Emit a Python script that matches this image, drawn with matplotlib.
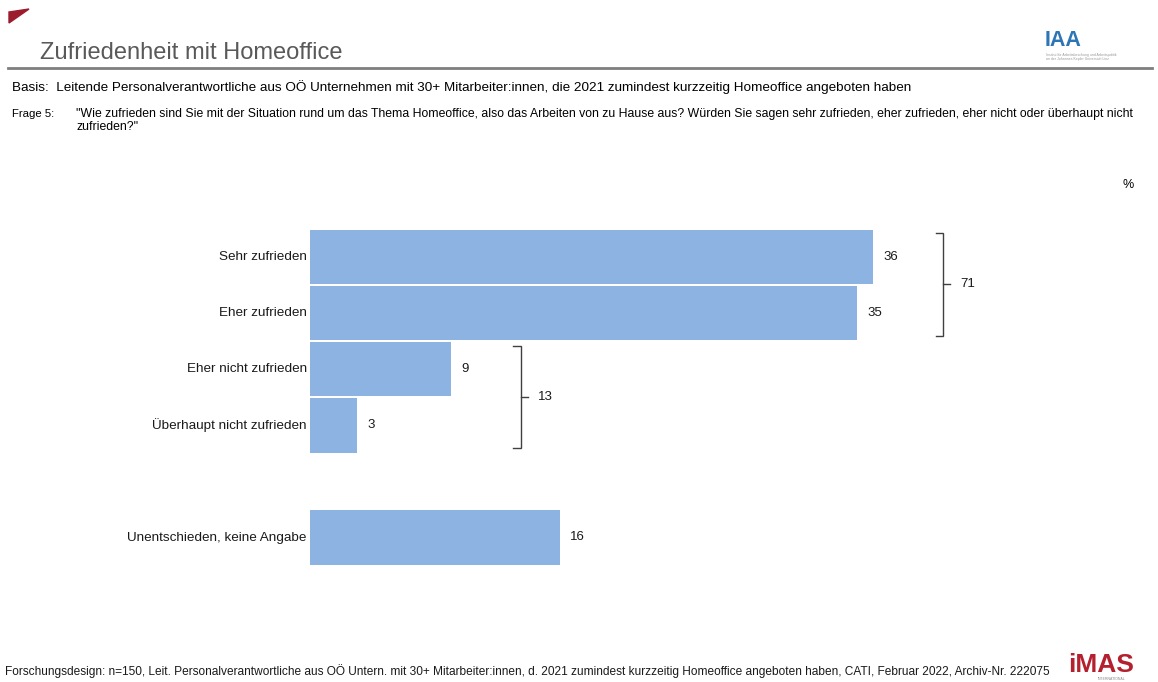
import numpy as np
import matplotlib.pyplot as plt
from matplotlib.patches import Polygon

plt.rcParams['font.family'] = ['Liberation Sans', 'DejaVu Sans']

# data
categories = ["Sehr zufrieden", "Eher zufrieden", "Eher nicht zufrieden",
              "Überhaupt nicht zufrieden", "Unentschieden, keine Angabe"]
values = [36, 35, 9, 3, 16]
positions = [0, 1, 2, 3, 5]
groups = [(0, 1, 71), (2, 3, 13)]  # first idx, last idx, summed label

W, H = 1158, 682
fig = plt.figure(figsize=(W / 100, H / 100), dpi=100)


def fx(x):
    return x / W


def fy(y):
    return 1 - y / H


# header decoration
fig.patches.append(Polygon([[fx(9), fy(12)], [fx(29), fy(9)], [fx(9), fy(23)]],
                           closed=True, color='#9c1c2e', transform=fig.transFigure))
fig.text(fx(40), fy(53), "Zufriedenheit mit Homeoffice", fontsize=17,
         color='#595959', va='center', ha='left')
fig.add_artist(plt.Line2D([fx(8), fx(1152)], [fy(68), fy(68)], color='#7f7f7f',
                          lw=2, transform=fig.transFigure))
fig.text(fx(1045), fy(40), "IAA", fontsize=15.5, fontweight='bold', color='#2e75b6',
         va='center', ha='left')
fig.text(fx(1046), fy(57), "Institut für Arbeitsforschung und Arbeitspolitik\nan der Johannes Kepler Universität Linz",
         fontsize=2.5, color='#999999', va='center', ha='left')

fig.text(fx(12), fy(87), "Basis:  Leitende Personalverantwortliche aus OÖ Unternehmen mit 30+ Mitarbeiter:innen, "
         "die 2021 zumindest kurzzeitig Homeoffice angeboten haben",
         fontsize=9.7, color='#000000', va='center', ha='left')
fig.text(fx(12), fy(114), "Frage 5:", fontsize=8.2, color='#000000', va='center', ha='left')
fig.text(fx(76), fy(114), "\"Wie zufrieden sind Sie mit der Situation rund um das Thema Homeoffice, also das Arbeiten "
         "von zu Hause aus? Würden Sie sagen sehr zufrieden, eher zufrieden, eher nicht oder überhaupt nicht",
         fontsize=8.8, color='#000000', va='center', ha='left')
fig.text(fx(76), fy(127), "zufrieden?\"", fontsize=8.8, color='#000000', va='center', ha='left')
fig.text(fx(1128), fy(185), "%", fontsize=9, va='center', ha='center')

# chart
px_per_unit = 15.64
ax_left, ax_right = 310, 1130
ax_top, ax_bot = 200, 600
ax = fig.add_axes([fx(ax_left), fy(ax_bot), fx(ax_right - ax_left), (ax_bot - ax_top) / H])
ax.set_xlim(0, (ax_right - ax_left) / px_per_unit)
unit_y = 56.1
ax.set_ylim((ax_bot - 257) / unit_y, -(257 - ax_top) / unit_y)
ax.axis('off')

ax.barh(positions, values, height=0.97, color='#8db3e2', edgecolor='none')
for p, v, c in zip(positions, values, categories):
    ax.text(-0.2, p, c, ha='right', va='center', fontsize=9.7, color='#1a1a1a')
    ax.text(v + 0.65, p, str(v), ha='left', va='center', fontsize=9.5, color='#1a1a1a')

for a, b, total in groups:
    xb = max(values[a], values[b]) + 4.5
    y0 = positions[a] - 0.42
    y1 = positions[b] + 0.4
    ym = (y0 + y1) / 2
    ax.plot([xb - 0.5, xb, xb, xb - 0.5], [y0, y0, y1, y1], color='#404040', lw=1,
            solid_joinstyle='miter')
    ax.plot([xb, xb + 0.45], [ym, ym], color='#404040', lw=1)
    ax.text(xb + 1.1, ym, str(total), ha='left', va='center', fontsize=9.5, color='#1a1a1a')

# footer
fig.text(fx(5), fy(671), "Forschungsdesign: n=150, Leit. Personalverantwortliche aus OÖ Untern. mit 30+ Mitarbeiter:innen, "
         "d. 2021 zumindest kurzzeitig Homeoffice angeboten haben, CATI, Februar 2022, Archiv-Nr. 222075",
         fontsize=8.55, color='#1a1a1a', va='center', ha='left')
fig.text(fx(1068), fy(665), "iMAS", fontsize=19, fontweight='bold', color='#b5202e',
         va='center', ha='left')
fig.text(fx(1098), fy(679), "INTERNATIONAL", fontsize=2.5, color='#888888', va='center', ha='left')

fig.savefig("out.png", dpi=100)
